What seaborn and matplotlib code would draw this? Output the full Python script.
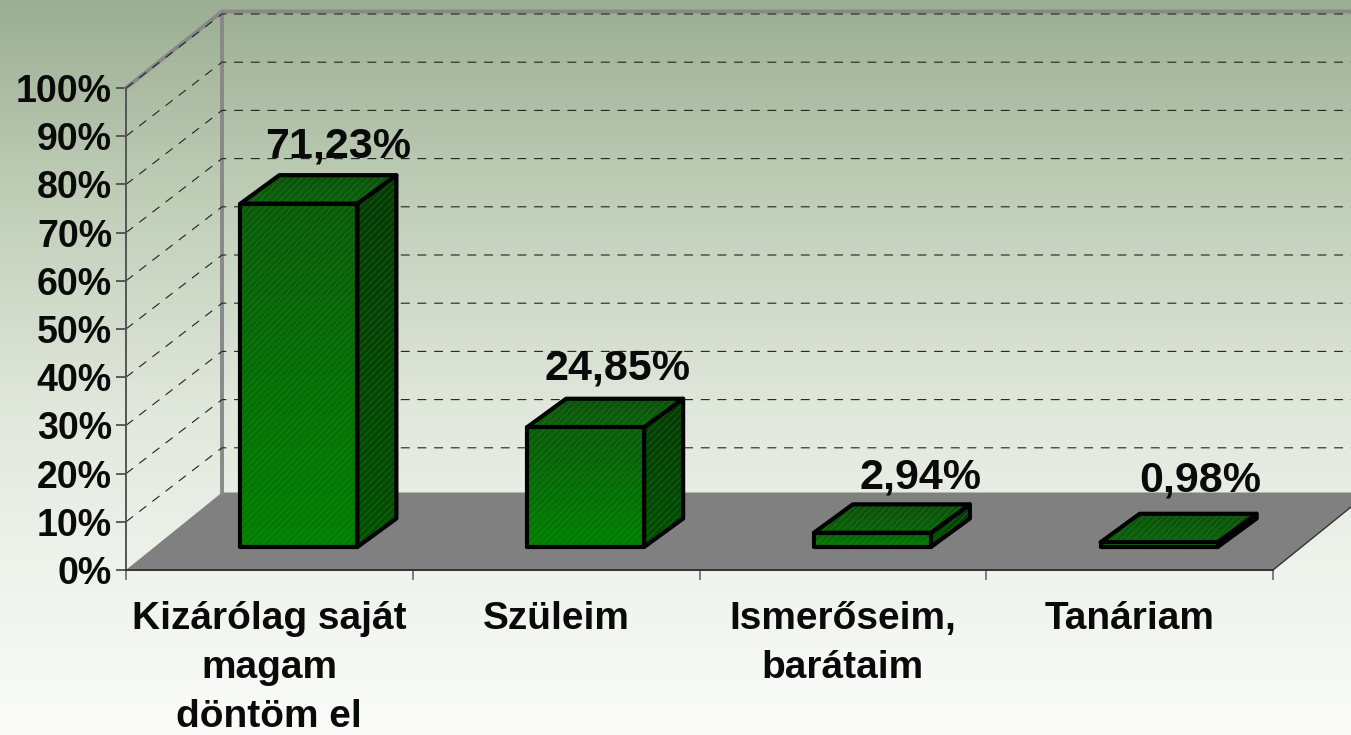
import matplotlib
matplotlib.use("Agg")
import matplotlib.pyplot as plt
import numpy as np
import pandas as pd
import seaborn as sns
from matplotlib.colors import to_rgb
from matplotlib.patches import Polygon
from matplotlib.transforms import Affine2D

categories = ["Kizárólag saját\nmagam\ndöntöm el", "Szüleim", "Ismerőseim,\nbarátaim", "Tanáriam"]
shares = [71.23, 24.85, 2.94, 0.98]
y_ticks = [0, 10, 20, 30, 40, 50, 60, 70, 80, 90, 100]

# label nudges in pixels, the original labels are not placed regularly
label_nudge = [(39, 57), (32, 59), (48, 55), (41, 62)]

W, H = 1351, 735
PX_X = 286.75  # pixels per category
PX_Y = 4.82  # pixels per percent
WALL_DX = 96 / PX_X
GRID_DY = 74 / PX_Y
FLOOR_DY = 77.5 / PX_Y
FRAME_DY = 76.5 / PX_Y
BAR_DX, BAR_DY = 29.5 / PX_X, 23 / PX_Y
SIDE_DX, SIDE_DY = 39 / PX_X, 28.5 / PX_Y
BAR_W = 117 / PX_X


def gradient(stops):
    pos = [s[0] for s in stops]
    cols = np.array([to_rgb(s[1]) for s in stops])
    t = np.linspace(0, 1, 256)
    return np.stack([np.interp(t, pos, cols[:, i]) for i in range(3)], axis=1)[:, None, :]


def draw_face(ax, verts, top, bottom, z):
    verts = np.array(verts)
    poly = Polygon(verts, closed=True, transform=ax.transData, fc="none", ec="none")
    ax.add_patch(poly)
    ext = (verts[:, 0].min(), verts[:, 0].max(), verts[:, 1].min(), verts[:, 1].max())
    im = ax.imshow(gradient([(0, top), (1, bottom)]), extent=ext, aspect="auto", zorder=z)
    im.set_clip_path(poly)
    ax.add_patch(Polygon(verts, closed=True, fill=False, hatch="/////", ec="#3f9f3f",
                         lw=0, alpha=0.35, zorder=z + 0.1))
    ax.add_patch(Polygon(verts, closed=True, fill=False, ec="black", lw=3,
                         joinstyle="round", zorder=z + 0.2, clip_on=False))


sns.set_theme(style="white")
plt.rcParams["font.family"] = ["Liberation Sans", "DejaVu Sans"]
plt.rcParams["hatch.linewidth"] = 0.6

fig = plt.figure(figsize=(W / 100, H / 100), dpi=100)

bg = fig.add_axes([0, 0, 1, 1], zorder=0)
bg.imshow(gradient([(0, "#9BAE93"), (0.27, "#C0CEB8"), (0.55, "#E0E7DB"),
                    (0.78, "#EEF3EC"), (1, "#FBFCFA")]), aspect="auto")
bg.axis("off")

ax = fig.add_axes([126 / W, (H - 570) / H, (1273 - 126) / W, (570 - 88) / H], zorder=1)
ax.patch.set_alpha(0)

df = pd.DataFrame({"category": categories, "share": shares})
sns.barplot(data=df, x="category", y="share", color="#008000", width=BAR_W, saturation=1, ax=ax)

x0, x1 = -0.5, 3.5
far = x1 + WALL_DX

# floor
ax.add_patch(Polygon([(x0, 0), (x0 + WALL_DX, FLOOR_DY), (far, FLOOR_DY), (x1, 0)], closed=True,
                     fc="#808080", ec="none", zorder=1, clip_on=False))
ax.plot([x1, far], [0, FLOOR_DY], color="#333333", lw=1, clip_on=False, zorder=1.5)

# grey wall frame
ax.plot([far, x0 + WALL_DX, x0], [100 + FRAME_DY, 100 + FRAME_DY, 100], color="#888888", lw=2.8,
        clip_on=False, zorder=1.1, solid_joinstyle="miter")
ax.plot([x0 + WALL_DX, x0 + WALL_DX], [FLOOR_DY, 100 + FRAME_DY], color="#888888", lw=2.8,
        clip_on=False, zorder=1.1)

# dashed grid on the side wall and the back wall
for v in y_ticks[1:]:
    ax.plot([x0, x0 + WALL_DX, far], [v, v + GRID_DY, v + GRID_DY], color="#222222", lw=0.8,
            dashes=(8, 7), clip_on=False, zorder=1.2)

shift = Affine2D().translate(BAR_DX, BAR_DY) + ax.transData
for i, (bar, v) in enumerate(zip(ax.patches, shares)):
    bar.set_transform(shift)
    bar.set_zorder(3)
    bar.set_clip_on(False)
    left = bar.get_x() + BAR_DX
    right = left + bar.get_width()
    low = BAR_DY
    high = BAR_DY + bar.get_height()
    draw_face(ax, [(right, low), (right + SIDE_DX, low + SIDE_DY), (right + SIDE_DX, high + SIDE_DY), (right, high)],
              "#063a06", "#024f02", 4)
    draw_face(ax, [(left, high), (right, high), (right + SIDE_DX, high + SIDE_DY), (left + SIDE_DX, high + SIDE_DY)],
              "#0c500c", "#0c620c", 5)
    draw_face(ax, [(left, low), (right, low), (right, high), (left, high)],
              "#0b5a0b", "#008000", 6)
    ax.annotate(f"{v:.2f}%".replace(".", ","), xy=(i + BAR_DX, high), xytext=label_nudge[i],
                textcoords="offset pixels", ha="center", va="center", fontsize=31,
                fontweight="bold", color="#0a0a0a", annotation_clip=False, zorder=9)

ax.set_xlim(x0, x1)
ax.set_ylim(0, 100)
ax.set_xlabel("")
ax.set_ylabel("")
for side in ["top", "right"]:
    ax.spines[side].set_visible(False)
ax.spines["left"].set(color="#555555", linewidth=1.4, zorder=1.6)
ax.spines["bottom"].set(color="#333333", linewidth=1.4, zorder=1.6)

ax.set_yticks(y_ticks, [f"{v}%" for v in y_ticks])
ax.set_xticks(range(len(categories)), categories)
ax.set_xticks(np.arange(x0, x1 + 1), minor=True)
ax.tick_params(axis="y", left=True, length=7, width=1.2, color="#444444", pad=3)
ax.tick_params(axis="x", which="major", bottom=False, length=0, pad=22)
ax.tick_params(axis="x", which="minor", bottom=True, length=7, width=1.2, color="#666666")
for t in ax.get_yticklabels():
    t.set(fontsize=27, fontweight="bold", color="#0a0a0a", va="center_baseline")
for t in ax.get_xticklabels():
    t.set(fontsize=28, fontweight="bold", color="#0a0a0a", linespacing=1.47)

fig.savefig("out.png", dpi=100)
